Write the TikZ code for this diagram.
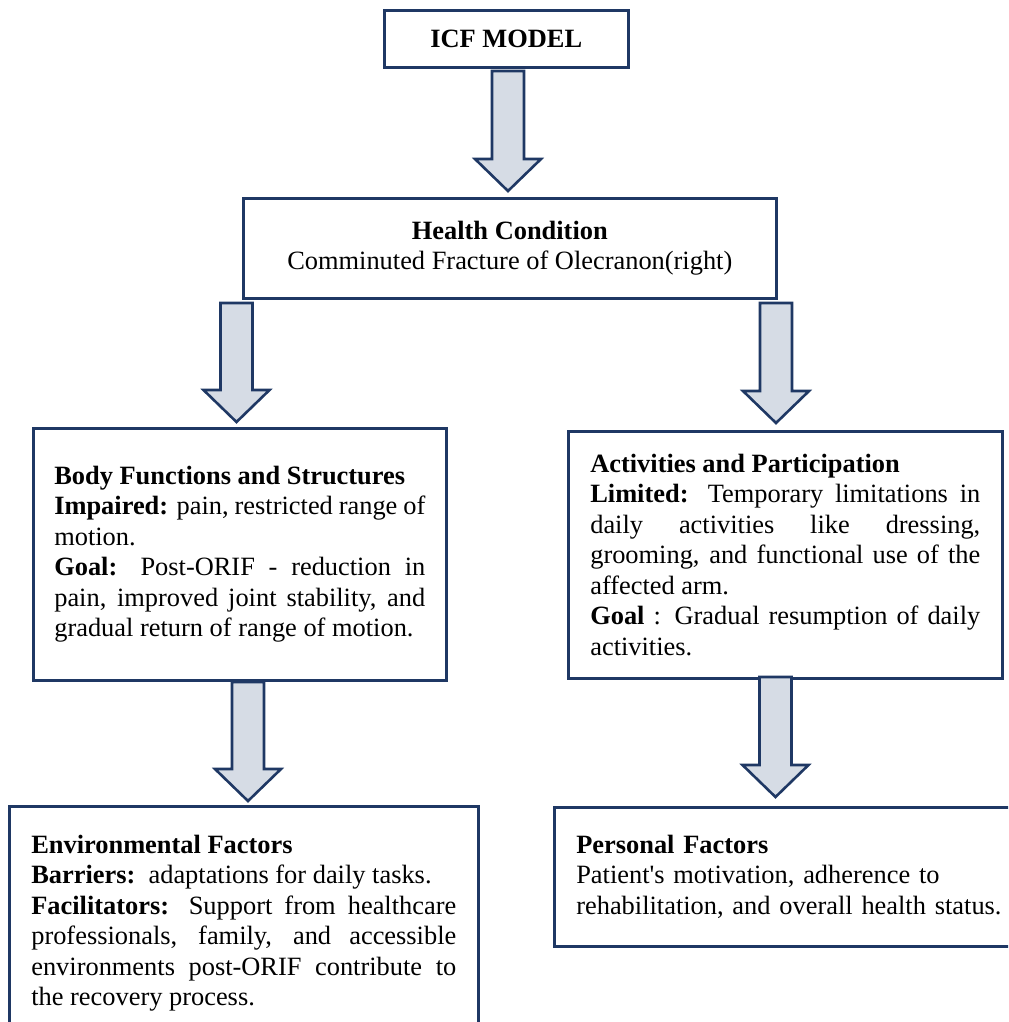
\documentclass[tikz,border=0pt]{standalone}
\usepackage{fontspec}
\setmainfont{Liberation Serif}
\usetikzlibrary{calc}

\definecolor{navy}{RGB}{31,56,100}
\definecolor{arrowfill}{RGB}{214,220,229}

\begin{document}
\begin{tikzpicture}[
    x=0.5pt, y=-0.5pt,
    txt/.style={font={\fontsize{13.2pt}{15.25pt}\selectfont}},
    box/.style={draw=navy, line width=1.3pt, fill=white, anchor=north west, inner ysep=0pt, txt},
    infobox/.style={box, inner xsep=11pt, align=justify},
    blockarrow/.style={draw=navy, line width=1.3pt, fill=arrowfill, line join=miter}
]

\useasboundingbox (0,0) rectangle (1008,1022);
\clip (0,0) rectangle (1008,1022);

% Top of the model
\node[box, minimum width=122pt, minimum height=28.5pt, align=center] (icf) at (383,9) {\textbf{ICF MODEL}};
\node[box, minimum width=266.5pt, minimum height=50pt, align=center] (health) at (242,197)
    {\textbf{Health Condition}\\ Comminuted Fracture of Olecranon(right)};

% Second row
\node[infobox, text width=185.5pt, inner xsep=10.5pt, minimum height=126pt] (body) at (32,427)
    {\textbf{Body Functions and Structures}\\
     \textbf{Impaired:} pain, restricted range of\linebreak motion.\\
     \textbf{Goal:} Post-ORIF - reduction in\linebreak pain, improved joint stability, and\linebreak gradual return of range of motion.};
\node[infobox, text width=195pt, minimum height=123.5pt] (activity) at (567,430)
    {\textbf{Activities and Participation}\\
     \textbf{Limited:} Temporary limitations in\linebreak daily activities like dressing,\linebreak grooming, and functional use of the\linebreak affected arm.\\
     \textbf{Goal} : Gradual resumption of daily\linebreak activities.};

% Third row
\node[infobox, text width=212.5pt, minimum height=117pt] (environment) at (8,805)
    {\textbf{Environmental Factors}\\
     \textbf{Barriers:}\ \ adaptations for daily tasks.\\
     \textbf{Facilitators:} Support from healthcare\linebreak professionals, family, and accessible\linebreak environments post-ORIF contribute to\linebreak the recovery process.};
\node[infobox, align=left, text width=216pt, minimum height=69.5pt] (personal) at (553,806)
    {\textbf{Personal Factors}\\
     Patient\textquotesingle s motivation, adherence to\\
     rehabilitation, and overall health status.};

% Block arrows
\foreach \n/\x/\ya/\yb in {a/508/71/191, b/236.5/303/422, c/776/303/423, d/248/682/801, e/775.5/677/797} {
    \coordinate (\n1) at (\x,\ya);
    \coordinate (\n2) at (\x,\yb);
    \draw[blockarrow] ($(\n1)+(-16,0)$) -- ($(\n1)+(16,0)$) -- ($(\n2)+(16,-32)$) -- ($(\n2)+(33,-32)$)
        -- (\n2) -- ($(\n2)+(-33,-32)$) -- ($(\n2)+(-16,-32)$) -- cycle;
}

\end{tikzpicture}
\end{document}
